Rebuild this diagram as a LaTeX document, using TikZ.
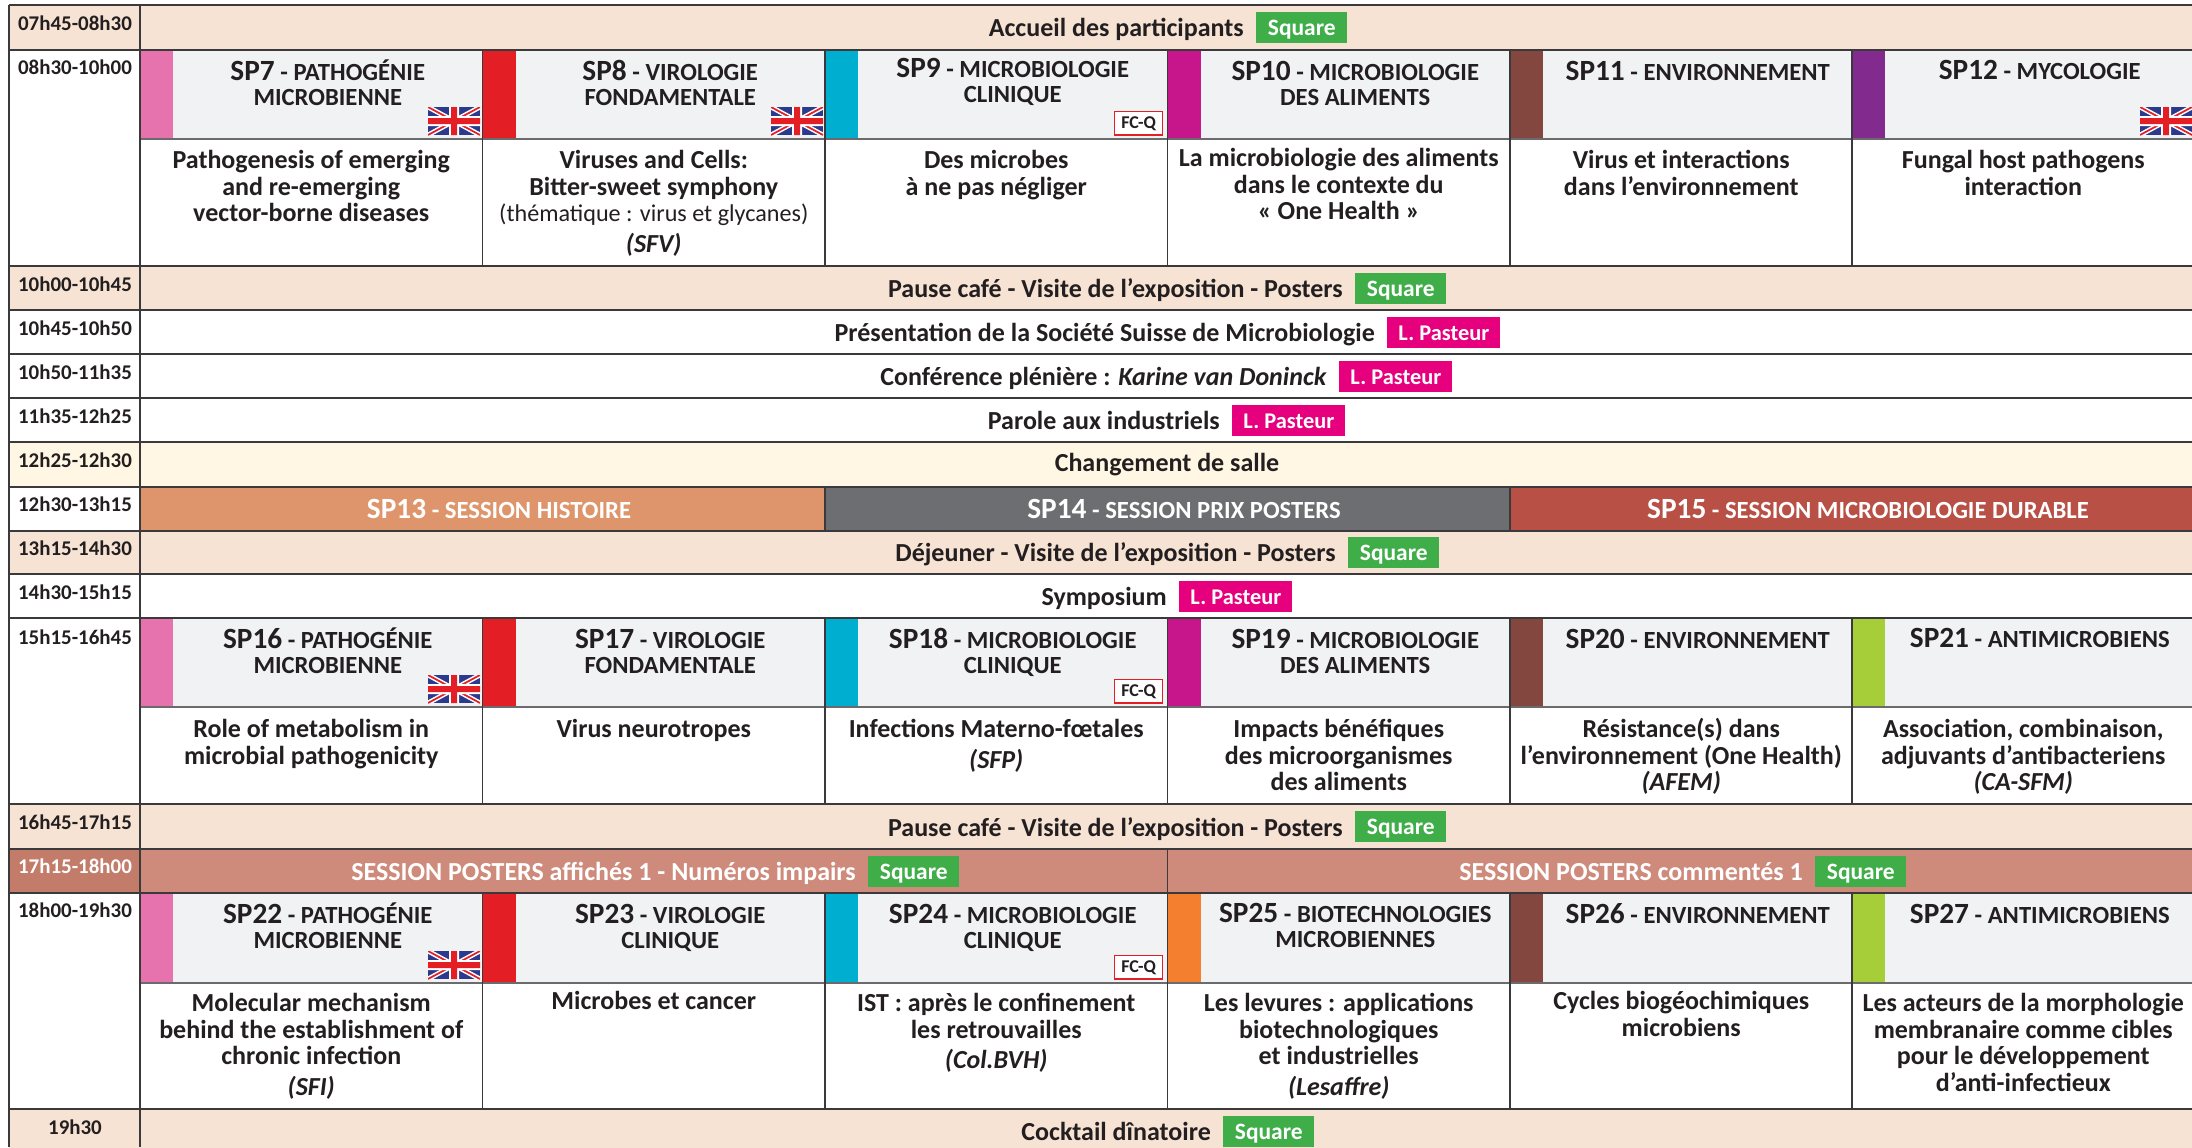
\documentclass[tikz,border=0pt]{standalone}
\usepackage{fontspec}
\setmainfont{Carlito}
\definecolor{ink}{HTML}{231F20}
\definecolor{rule}{HTML}{3A3A3C}
\definecolor{peach}{HTML}{F7E3D4}
\definecolor{cream}{HTML}{FFF7E4}
\definecolor{headgray}{HTML}{F1F2F4}
\definecolor{cPink}{HTML}{E673AE}
\definecolor{cRed}{HTML}{E31E24}
\definecolor{cCyan}{HTML}{00AFCF}
\definecolor{cMag}{HTML}{C7168C}
\definecolor{cBrown}{HTML}{84473F}
\definecolor{cPurple}{HTML}{832A8E}
\definecolor{cLime}{HTML}{A6CE39}
\definecolor{cOrange}{HTML}{F37F2F}
\definecolor{hist}{HTML}{DF956B}
\definecolor{prix}{HTML}{6D6E71}
\definecolor{durable}{HTML}{B85046}
\definecolor{poster}{HTML}{CE8B7B}
\definecolor{postertime}{HTML}{C47C6A}
\definecolor{squaregreen}{HTML}{3FAE49}
\definecolor{pasteur}{HTML}{E6007E}
\definecolor{ukblue}{HTML}{2B3A8C}
\definecolor{ukred}{HTML}{E31E24}
\newcounter{nid}
\tikzset{
  txt/.style={inner sep=0pt,text=ink},
  timetxt/.style={txt,anchor=base,font=\fontsize{15.7}{18}\selectfont\bfseries},
  rowtxt/.style={txt,anchor=base east,font=\fontsize{19.5}{20}\selectfont\bfseries},
  midtxt/.style={txt,anchor=base,font=\fontsize{19.5}{20}\selectfont\bfseries},
  bodytxt/.style={txt,anchor=north,align=center,font=\fontsize{19.5}{20}\selectfont\bfseries},
  headtxt/.style={txt,anchor=north,align=center,font=\fontsize{18.5}{18.75}\selectfont\bfseries},
  bandtxt/.style={inner sep=0pt,text=white,anchor=base,font=\fontsize{18.5}{18}\selectfont\bfseries},
  tagbox/.style={inner sep=0pt,text=white,anchor=north west,minimum height=23.25pt,
     font=\fontsize{17.6}{18}\selectfont\bfseries,text height=13pt,text depth=2pt},
  fcq/.style={draw=cRed,line width=.9pt,fill=white,inner sep=0pt,anchor=north west,text=ink,
     minimum width=36pt,minimum height=17.5pt,font=\fontsize{13.5}{14}\selectfont\bfseries},
  hline/.style={draw=rule,line width=1.5pt},
  vline/.style={draw=rule,line width=.8pt},
  gline/.style={draw=rule!75,line width=1.8pt},
}
\newcommand\SPn[1]{{\fontsize{22}{18.75}\selectfont #1}}
\newcommand\nodeid{\stepcounter{nid}}
% time label: y1 y2 fill label baseline
\newcommand\timecell[5]{\fill[#3] (9,#1) rectangle (140,#2);
  \nodeid\node[timetxt] (t\arabic{nid}) at (75,#5) {#4};}
% tag: x y width colour text
\newcommand\tagat[5]{\nodeid\node[tagbox,fill=#4,minimum width=#3*0.75pt] (g\arabic{nid}) at (#1,#2) {#5};}
\newcommand\squareat[2]{\tagat{#1}{#2}{91}{squaregreen}{Square}}
\newcommand\pasteurat[2]{\tagat{#1}{#2}{113}{pasteur}{\fontsize{16.8}{18}\selectfont L. Pasteur}}
% flag at top-left
\newcommand\ukflag[2]{\begin{scope}[shift={(#1,#2)}]
  \begin{scope}
  \clip (0,0) rectangle (52,28);
  \fill[ukblue] (0,0) rectangle (52,28);
  \draw[white,line width=3.6pt] (0,0) -- (52,28) (0,28) -- (52,0);
  \draw[ukred,line width=1.3pt] (0,0) -- (52,28) (0,28) -- (52,0);
  \fill[white] (21,0) rectangle (31,28) (0,9) rectangle (52,19);
  \fill[ukred] (23,0) rectangle (29,28) (0,11) rectangle (52,17);
  \end{scope}\end{scope}}
\newcommand\fcqat[2]{\nodeid\node[fcq] (q\arabic{nid}) at (#1,#2) {FC-Q};}
% header fill: col-left top bottom colour
\newcommand\headfill[4]{\fill[headgray] (#1,#2) rectangle ({#1+342.5},#3);
  \fill[#4] (#1,#2) rectangle ({#1+33},#3);}
% header text: col-left first-baseline text
\newcommand\headat[3]{\nodeid\node[headtxt] (h\arabic{nid}) at ({#1+33+154.75},{#2-21.4}) {\rule{0pt}{17pt}#3};}
% body text: col-left first-baseline text
\newcommand\bodyat[3]{\nodeid\node[bodytxt] (b\arabic{nid}) at ({#1+171.25},{#2-20}) {\rule{0pt}{16pt}#3};}
\newcommand\sfont{\fontsize{18.1}{20}\selectfont\mdseries}
\newcommand\ital[1]{\\[3pt]\textit{#1}}
\begin{document}
\begin{tikzpicture}[x=0.75pt,y=-0.75pt]
\path[use as bounding box,clip] (0,0) rectangle (2192,1147);
\fill[white] (0,0) rectangle (2192,1147);
% coloured rows
\fill[peach] (140,5) rectangle (2194,50);
\fill[peach] (140,266) rectangle (2194,310);
\fill[cream] (140,442) rectangle (2194,487);
\fill[hist] (140,487) rectangle (825,531);
\fill[prix] (825,487) rectangle (1510,531);
\fill[durable] (1510,487) rectangle (2194,531);
\fill[peach] (140,531) rectangle (2194,574);
\fill[peach] (140,804) rectangle (2194,849);
\fill[poster] (140,849) rectangle (2194,893);
\fill[peach] (140,1109) rectangle (2194,1160);
% headers
\headfill{140}{50}{139}{cPink}\headfill{482.5}{50}{139}{cRed}\headfill{825}{50}{139}{cCyan}
\headfill{1167.5}{50}{139}{cMag}\headfill{1510}{50}{139}{cBrown}\headfill{1852}{50}{139}{cPurple}
\headfill{140}{618}{707}{cPink}\headfill{482.5}{618}{707}{cRed}\headfill{825}{618}{707}{cCyan}
\headfill{1167.5}{618}{707}{cMag}\headfill{1510}{618}{707}{cBrown}\headfill{1852}{618}{707}{cLime}
\headfill{140}{893}{983}{cPink}\headfill{482.5}{893}{983}{cRed}\headfill{825}{893}{983}{cCyan}
\headfill{1167.5}{893}{983}{cOrange}\headfill{1510}{893}{983}{cBrown}\headfill{1852}{893}{983}{cLime}
% time cells
\timecell{5}{50}{peach}{07h45-08h30}{30}
\timecell{50}{266}{white}{08h30-10h00}{74}
\timecell{266}{310}{peach}{10h00-10h45}{291}
\timecell{310}{354}{white}{10h45-10h50}{335}
\timecell{354}{398}{white}{10h50-11h35}{379}
\timecell{398}{442}{white}{11h35-12h25}{423}
\timecell{442}{487}{cream}{12h25-12h30}{467}
\timecell{487}{531}{white}{12h30-13h15}{511}
\timecell{531}{574}{peach}{13h15-14h30}{555}
\timecell{574}{618}{white}{14h30-15h15}{599}
\timecell{618}{804}{white}{15h15-16h45}{644}
\timecell{804}{849}{peach}{16h45-17h15}{829}
\nodeid\fill[postertime] (9,849) rectangle (140,893);
\nodeid\node[timetxt,text=white] (t\arabic{nid}) at (75,873) {17h15-18h00};
\timecell{893}{1109}{white}{18h00-19h30}{917}
\timecell{1109}{1160}{peach}{19h30}{1134}
% grid
\foreach \yy in {5,50,266,310,354,398,442,487,531,574,618,804,849,893,1109}
  \draw[hline] (9,\yy) -- (2194,\yy);
\foreach \yy in {139,707,983} \draw[gline] (140,\yy) -- (2194,\yy);
\draw[vline] (9,5) -- (9,1147) (140,5) -- (140,1147);
\foreach \xx in {482.5,825,1167.5,1510,1852}{
  \draw[vline] (\xx,50) -- (\xx,266) (\xx,618) -- (\xx,804) (\xx,893) -- (\xx,1109);}
\draw[vline] (825,487) -- (825,531) (1510,487) -- (1510,531) (1167.5,849) -- (1167.5,893);
% full-width rows
\nodeid\node[rowtxt] (r\arabic{nid}) at (1244,36) {Accueil des participants}; \squareat{1256}{12}
\nodeid\node[rowtxt] (r\arabic{nid}) at (1343,297) {Pause café - Visite de l’exposition - Posters}; \squareat{1355}{273}
\nodeid\node[rowtxt] (r\arabic{nid}) at (1375,341) {Présentation de la Société Suisse de Microbiologie}; \pasteurat{1387}{317}
\nodeid\node[rowtxt] (r\arabic{nid}) at (1327,385) {Conférence plénière : \textit{Karine van Doninck}}; \pasteurat{1339}{361}
\nodeid\node[rowtxt] (r\arabic{nid}) at (1220,429) {Parole aux industriels}; \pasteurat{1232}{405}
\nodeid\node[midtxt] (r\arabic{nid}) at (1167,471) {Changement de salle};
\nodeid\node[rowtxt] (r\arabic{nid}) at (1336,561) {Déjeuner - Visite de l’exposition - Posters}; \squareat{1348}{537}
\nodeid\node[rowtxt] (r\arabic{nid}) at (1167,605) {Symposium}; \pasteurat{1179}{581}
\nodeid\node[rowtxt] (r\arabic{nid}) at (1343,836) {Pause café - Visite de l’exposition - Posters}; \squareat{1355}{811}
\nodeid\node[rowtxt,text=white] (r\arabic{nid}) at (856,880) {SESSION POSTERS affichés 1 - Numéros impairs}; \squareat{868}{856}
\nodeid\node[rowtxt,text=white] (r\arabic{nid}) at (1803,880) {SESSION POSTERS commentés 1}; \squareat{1815}{856}
\nodeid\node[rowtxt] (r\arabic{nid}) at (1211,1140) {Cocktail dînatoire}; \squareat{1223}{1116}
% bands
\nodeid\node[bandtxt] (s\arabic{nid}) at (499,518) {\SPn{SP13} - SESSION HISTOIRE};
\nodeid\node[bandtxt] (s\arabic{nid}) at (1184,518) {\SPn{SP14} - SESSION PRIX POSTERS};
\nodeid\node[bandtxt] (s\arabic{nid}) at (1868,518) {\SPn{SP15} - SESSION MICROBIOLOGIE DURABLE};
% block 1 headers
\headat{140}{79}{\SPn{SP7} - PATHOGÉNIE\\MICROBIENNE}
\headat{482.5}{79}{\SPn{SP8} - VIROLOGIE\\FONDAMENTALE}
\headat{825}{76}{\SPn{SP9} - MICROBIOLOGIE\\CLINIQUE}
\headat{1167.5}{79}{\SPn{SP10} - MICROBIOLOGIE\\DES ALIMENTS}
\headat{1510}{79}{\SPn{SP11} - ENVIRONNEMENT}
\headat{1852}{78}{\SPn{SP12} - MYCOLOGIE}
\bodyat{140}{167}{Pathogenesis of emerging\\and re-emerging\\vector-borne diseases}
\bodyat{482.5}{167}{Viruses and Cells:\\Bitter-sweet symphony\\{\sfont(thématique : virus et glycanes)}\ital{(SFV)}}
\bodyat{825}{167}{Des microbes\\à ne pas négliger}
\bodyat{1167.5}{165}{La microbiologie des aliments\\dans le contexte du\\« One Health »}
\bodyat{1510}{167}{Virus et interactions\\dans l’environnement}
\bodyat{1852}{167}{Fungal host pathogens\\interaction}
\ukflag{428}{107}\ukflag{771}{107}\ukflag{2140}{107}\fcqat{1114}{111}
% block 2
\headat{140}{647}{\SPn{SP16} - PATHOGÉNIE\\MICROBIENNE}
\headat{482.5}{647}{\SPn{SP17} - VIROLOGIE\\FONDAMENTALE}
\headat{825}{647}{\SPn{SP18} - MICROBIOLOGIE\\CLINIQUE}
\headat{1167.5}{647}{\SPn{SP19} - MICROBIOLOGIE\\DES ALIMENTS}
\headat{1510}{647}{\SPn{SP20} - ENVIRONNEMENT}
\headat{1852}{646}{\SPn{SP21} - ANTIMICROBIENS}
\bodyat{140}{736}{Role of metabolism in\\microbial pathogenicity}
\bodyat{482.5}{736}{Virus neurotropes}
\bodyat{825}{736}{Infections Materno-fœtales\ital{(SFP)}}
\bodyat{1167.5}{736}{Impacts bénéfiques\\des microorganismes\\des aliments}
\bodyat{1510}{736}{Résistance(s) dans\\l’environnement (One Health)\\\textit{(AFEM)}}
\bodyat{1852}{736}{Association, combinaison,\\adjuvants d’antibacteriens\\\textit{(CA-SFM)}}
\ukflag{428}{675}\fcqat{1114}{679}
% block 3
\headat{140}{922}{\SPn{SP22} - PATHOGÉNIE\\MICROBIENNE}
\headat{482.5}{922}{\SPn{SP23} - VIROLOGIE\\CLINIQUE}
\headat{825}{922}{\SPn{SP24} - MICROBIOLOGIE\\CLINIQUE}
\headat{1167.5}{921}{\SPn{SP25} - BIOTECHNOLOGIES\\MICROBIENNES}
\headat{1510}{922}{\SPn{SP26} - ENVIRONNEMENT}
\headat{1852}{922}{\SPn{SP27} - ANTIMICROBIENS}
\bodyat{140}{1010}{Molecular mechanism\\behind the establishment of\\chronic infection\ital{(SFI)}}
\bodyat{482.5}{1008}{Microbes et cancer}
\bodyat{825}{1010}{IST : après le confinement\\les retrouvailles\ital{(Col.BVH)}}
\bodyat{1167.5}{1010}{Les levures : applications\\biotechnologiques\\et industrielles\ital{(Lesaffre)}}
\bodyat{1510}{1008}{Cycles biogéochimiques\\microbiens}
\bodyat{1852}{1010}{Les acteurs de la morphologie\\membranaire comme cibles\\pour le développement\\d’anti-infectieux}
\ukflag{428}{951}\fcqat{1114}{955}
\end{tikzpicture}
\end{document}
